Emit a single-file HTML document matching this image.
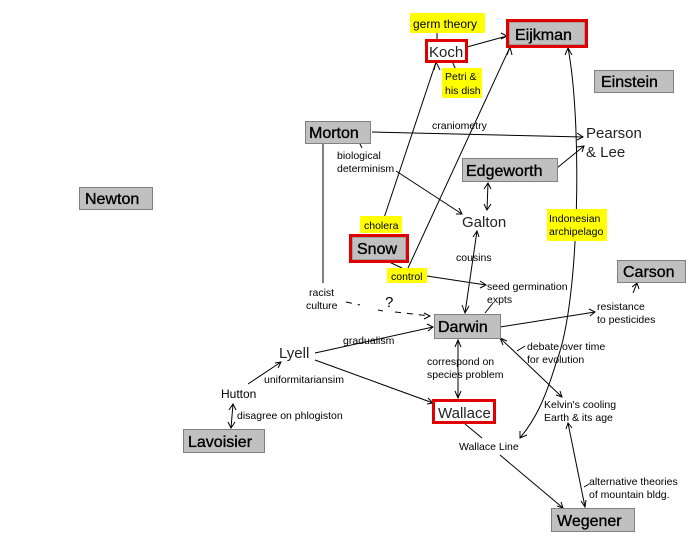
<!DOCTYPE html>
<html><head><meta charset="utf-8"><style>
html,body{margin:0;padding:0;background:#fff;width:700px;height:550px;overflow:hidden}
svg{display:block}
text{font-family:"Liberation Sans",sans-serif;fill:#000}
.b{font-size:16px;stroke:#000;stroke-width:0.35}
.s{font-size:10.5px}
.l{font-size:15px;fill:#222}
.g{fill:#c0c0c0;stroke:#808080;stroke-width:1}
.r{fill:none;stroke:#e00000;stroke-width:3}
.y{fill:#ffff00}
line,path,polyline{stroke:#000;stroke-width:1;fill:none}
</style></head><body>
<svg width="700" height="550" xmlns="http://www.w3.org/2000/svg">
<!-- connectors -->
<line x1="437" y1="33" x2="437" y2="40"/>
<line x1="452" y1="61" x2="456" y2="70"/>
<line x1="467" y1="47" x2="507" y2="36"/><polyline points="501,33 507,36 501,39"/>
<line x1="372" y1="132" x2="583" y2="137"/><polyline points="577,133 583,137 577,140"/>
<line x1="557" y1="168" x2="584" y2="146"/><polyline points="577,147 584,146 582,152"/>
<line x1="360" y1="144" x2="362" y2="148"/>
<line x1="396" y1="171" x2="462" y2="214"/><polyline points="456,214 462,214 459,208"/>
<line x1="488" y1="183" x2="487" y2="210"/><polyline points="484,189 488,183 491,189"/><polyline points="484,204 487,210 491,204"/>
<line x1="384" y1="218" x2="436" y2="62"/><polyline points="434,70 436,62 440,70"/>
<line x1="408" y1="268" x2="510" y2="47"/><polyline points="507,55 510,47 512,55"/>
<line x1="387" y1="261" x2="402" y2="268"/>
<line x1="427" y1="276" x2="486" y2="285"/><polyline points="480,281 486,285 480,288"/>
<line x1="477" y1="231" x2="465" y2="313"/><polyline points="473,237 477,231 479,237"/><polyline points="462,305 465,313 469,306"/>
<line x1="323" y1="144" x2="323" y2="283"/>
<path d="M346,302 L360,305" stroke-dasharray="6,6"/><path d="M378,310 L383,311"/><path d="M395,312 L430,316" stroke-dasharray="6,6"/><polyline points="424,313 430,316 424,319"/>
<line x1="485" y1="313" x2="493" y2="303"/>
<line x1="500" y1="327" x2="595" y2="312"/><polyline points="589,309 595,312 590,316"/>
<line x1="633" y1="293" x2="637" y2="283"/><polyline points="632,287 637,283 639,289"/>
<line x1="315" y1="353" x2="433" y2="327"/><polyline points="427,324 433,327 428,331"/>
<line x1="315" y1="360" x2="433" y2="403"/><polyline points="428,398 433,403 427,404"/>
<line x1="458" y1="340" x2="458" y2="398"/><polyline points="455,347 458,340 461,347"/><polyline points="455,391 458,398 461,391"/>
<line x1="248" y1="384" x2="281" y2="362"/><polyline points="275,363 281,362 278,368"/>
<line x1="233" y1="404" x2="231" y2="428"/><polyline points="229,410 233,404 236,410"/><polyline points="228,422 231,428 235,422"/>
<line x1="500" y1="338" x2="562" y2="397"/><polyline points="503,345 500,338 507,341"/><polyline points="556,395 562,397 560,391"/>
<line x1="517" y1="351" x2="525" y2="346"/>
<line x1="465" y1="424" x2="482" y2="438"/>
<line x1="500" y1="455" x2="563" y2="508"/><polyline points="557,506 563,508 561,502"/>
<line x1="568" y1="423" x2="585" y2="507"/><polyline points="566,429 568,423 572,428"/><polyline points="581,501 585,507 586,500"/>
<line x1="584" y1="487" x2="589" y2="484"/>
<path d="M568,48 C582,120 580,300 557,360 C545,400 535,420 520,438"/>
<polyline points="565,55 568,48 572,55"/><polyline points="520,431 520,438 527,435"/>
<!-- yellow labels -->
<rect class="y" x="410" y="13" width="75" height="20"/>
<text class="s" x="413" y="28" style="font-size:12px">germ theory</text>
<rect class="y" x="442" y="68" width="40" height="30"/>
<text class="s" x="445" y="80">Petri &amp;</text><text class="s" x="445" y="94">his dish</text>
<rect class="y" x="360" y="216" width="42" height="17"/>
<text class="s" x="364" y="229">cholera</text>
<rect class="y" x="387" y="268" width="40" height="15"/>
<text class="s" x="391" y="280">control</text>
<rect class="y" x="547" y="209" width="60" height="32"/>
<text class="s" x="549" y="222">Indonesian</text><text class="s" x="549" y="235">archipelago</text>
<!-- boxes -->
<rect class="g" x="509" y="22" width="76" height="23"/><rect class="r" x="507.5" y="20.5" width="79" height="26"/>
<text class="b" x="515" y="40">Eijkman</text>
<rect fill="#fff" x="427" y="41" width="39" height="19"/><rect class="r" x="426.5" y="40.5" width="40" height="21"/>
<text class="l" x="429" y="57">Koch</text>
<rect class="g" x="594.5" y="70.5" width="79" height="22"/><text class="b" x="601" y="87">Einstein</text>
<rect class="g" x="305.5" y="121.5" width="65" height="22"/><text class="b" x="309" y="138">Morton</text>
<rect class="g" x="462.5" y="158.5" width="95" height="23"/><text class="b" x="466" y="176">Edgeworth</text>
<rect class="g" x="79.5" y="187.5" width="73" height="22"/><text class="b" x="85" y="204">Newton</text>
<rect class="g" x="352" y="237" width="54" height="23"/><rect class="r" x="350.5" y="235.5" width="57" height="26"/>
<text class="b" x="357" y="254">Snow</text>
<rect class="g" x="617.5" y="260.5" width="68" height="22"/><text class="b" x="623" y="277">Carson</text>
<rect class="g" x="434.5" y="314.5" width="66" height="24"/><text class="b" x="438" y="332">Darwin</text>
<rect fill="#fff" x="434" y="401" width="60" height="21"/><rect class="r" x="433.5" y="400.5" width="61" height="22"/>
<text class="l" x="438" y="418">Wallace</text>
<rect class="g" x="183.5" y="429.5" width="81" height="23"/><text class="b" x="188" y="447">Lavoisier</text>
<rect class="g" x="551.5" y="508.5" width="83" height="23"/><text class="b" x="557" y="526">Wegener</text>
<!-- plain text nodes -->
<text class="l" x="586" y="138">Pearson</text><text class="l" x="586" y="157">&amp; Lee</text>
<text class="l" x="462" y="227">Galton</text>
<text class="l" x="279" y="358">Lyell</text>
<text class="s" x="221" y="398" style="font-size:12px">Hutton</text>
<!-- link labels -->
<text class="s" x="432" y="129">craniometry</text>
<text class="s" x="337" y="159">biological</text><text class="s" x="337" y="172">determinism</text>
<text class="s" x="456" y="261">cousins</text>
<text class="s" x="487" y="290">seed germination</text><text class="s" x="487" y="303">expts</text>
<text class="s" x="309" y="296">racist</text><text class="s" x="306" y="309">culture</text>
<text x="385" y="307" style="font-size:15px">?</text>
<text class="s" x="597" y="310">resistance</text><text class="s" x="597" y="323">to pesticides</text>
<text class="s" x="343" y="344">gradualism</text>
<text class="s" x="527" y="350">debate over time</text><text class="s" x="527" y="363">for evolution</text>
<text class="s" x="427" y="365">correspond on</text><text class="s" x="427" y="378">species problem</text>
<text class="s" x="264" y="383">uniformitariansim</text>
<text class="s" x="544" y="408">Kelvin's cooling</text><text class="s" x="544" y="421">Earth &amp; its age</text>
<text class="s" x="237" y="419">disagree on phlogiston</text>
<text class="s" x="459" y="450">Wallace Line</text>
<text class="s" x="589" y="485">alternative theories</text><text class="s" x="589" y="498">of mountain bldg.</text>
</svg>
</body></html>
